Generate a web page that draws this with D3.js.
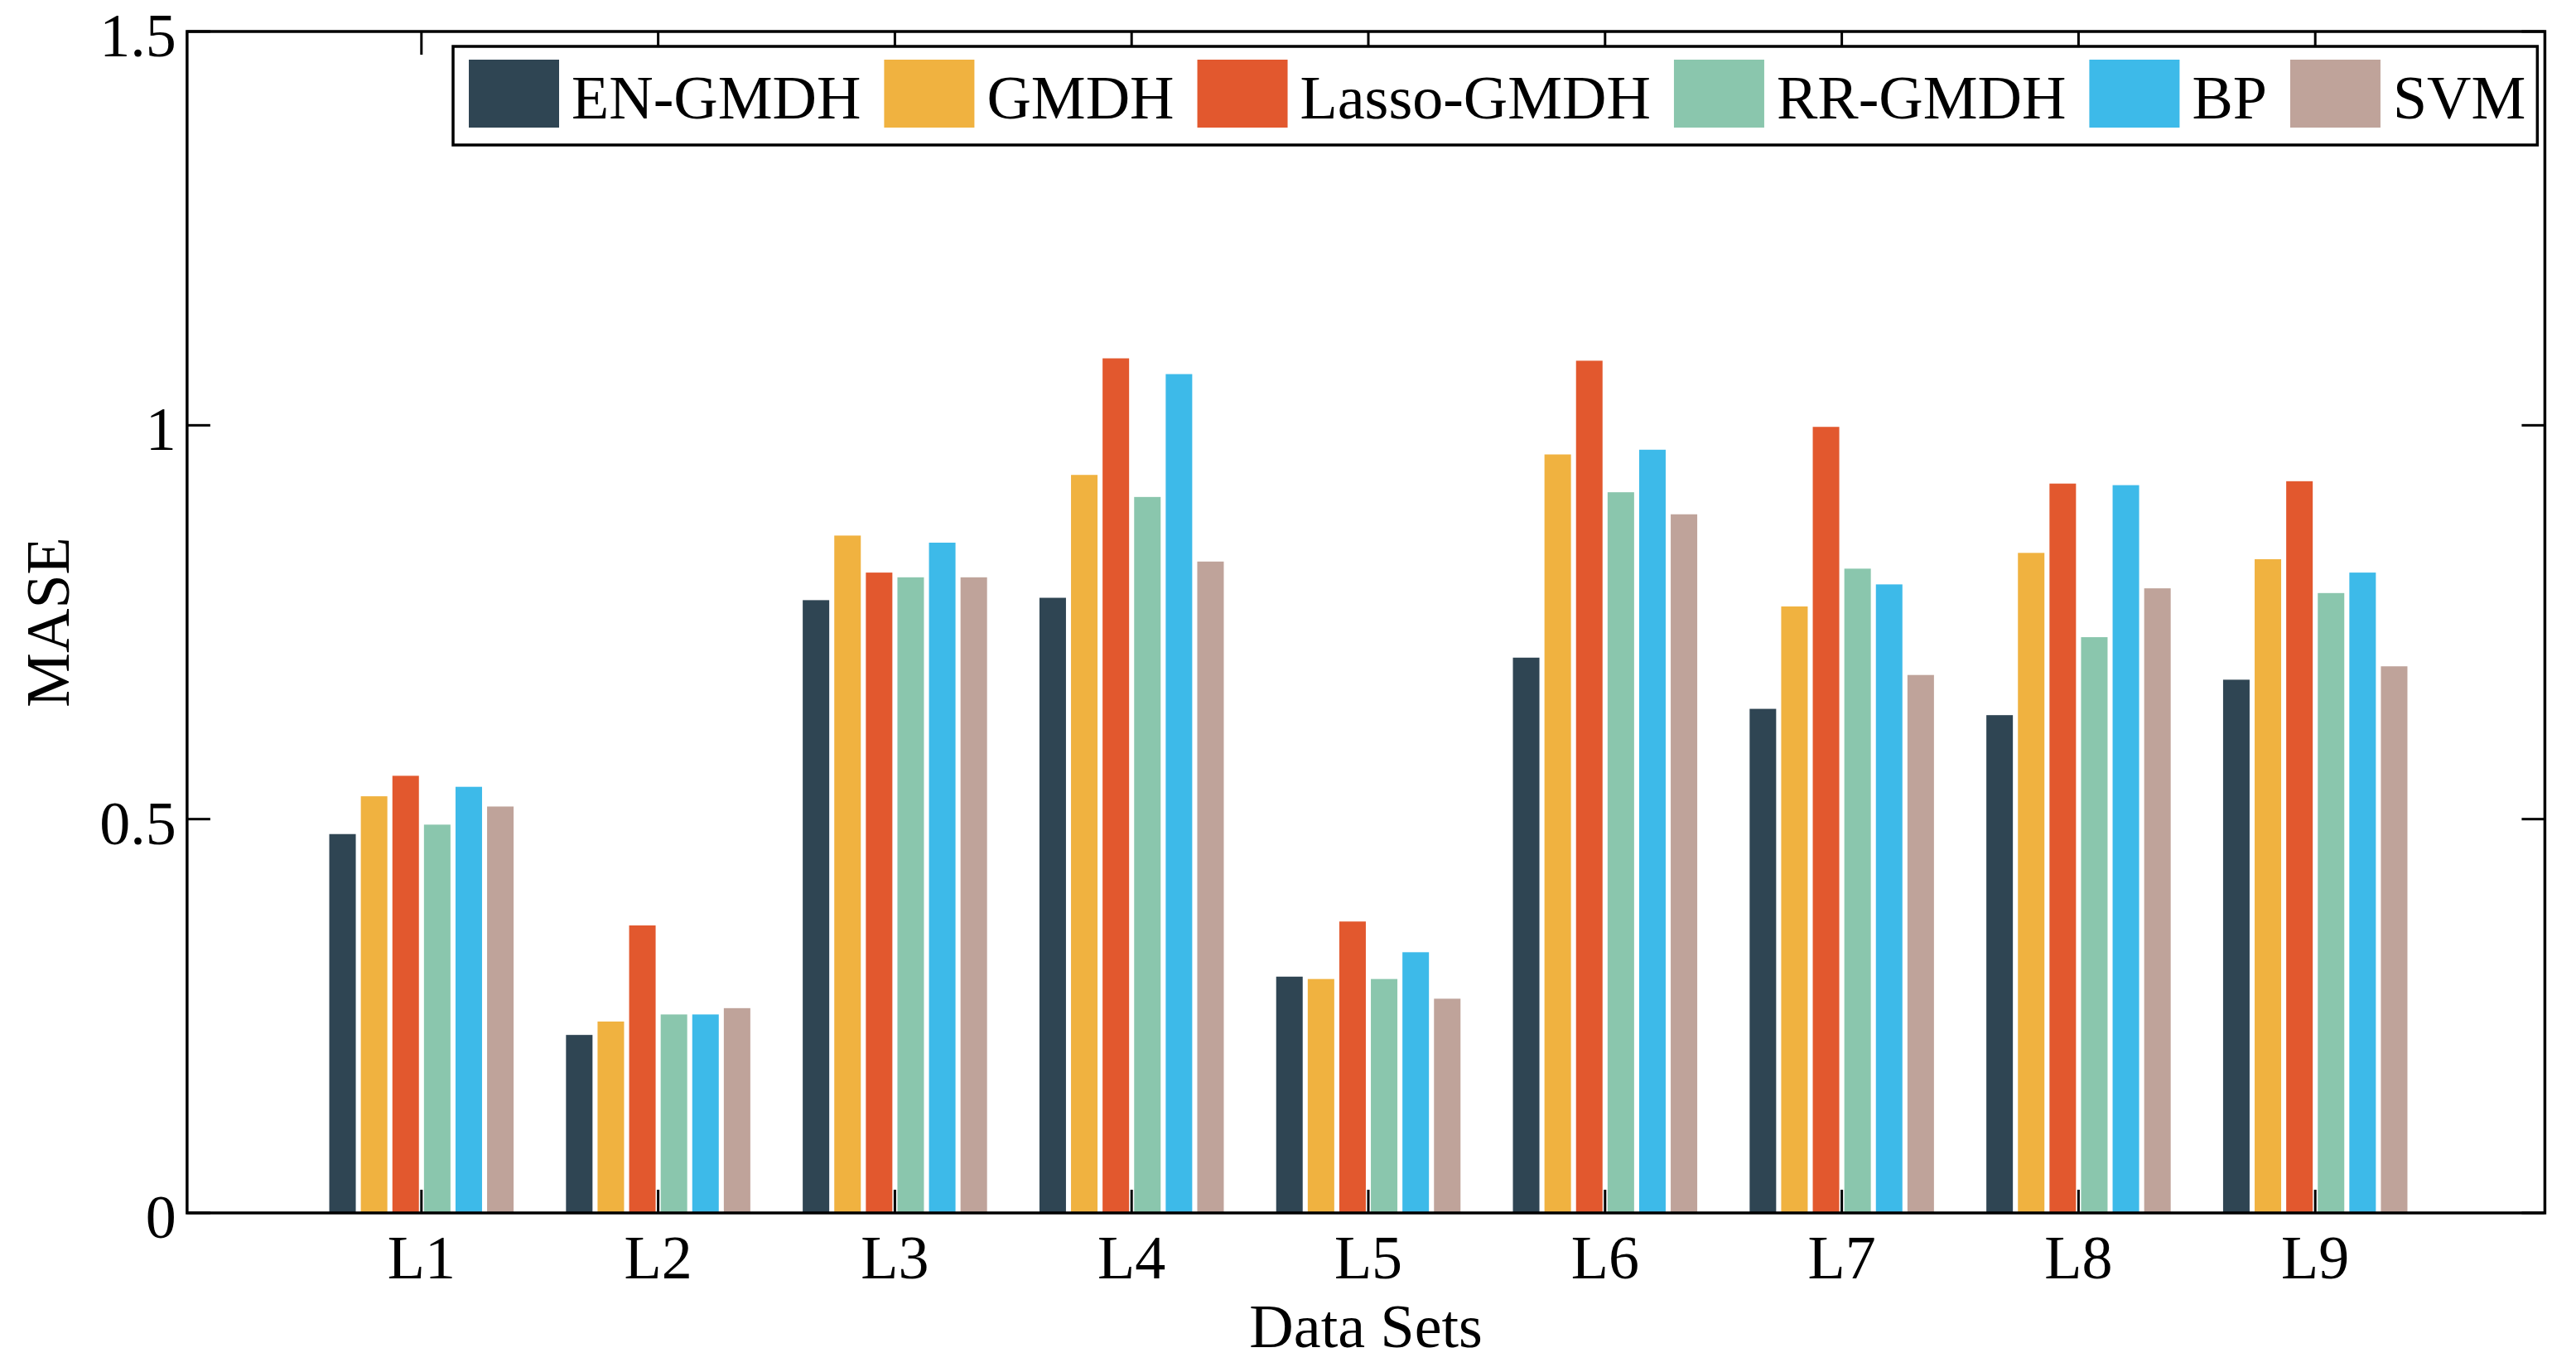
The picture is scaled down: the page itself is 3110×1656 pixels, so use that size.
<!DOCTYPE html>
<html><head><meta charset="utf-8">
<script src="https://cdn.jsdelivr.net/npm/d3@7"></script>
<style>html,body{margin:0;padding:0;background:#fff;} svg{display:block}</style>
</head><body>
<svg id="chart" width="3110" height="1656"></svg>
<script>
const categories = ["L1","L2","L3","L4","L5","L6","L7","L8","L9"];
const seriesNames = ["EN-GMDH","GMDH","Lasso-GMDH","RR-GMDH","BP","SVM"];
const seriesColors = ["#2f4553","#f0b240","#e2582e","#8ac6ad","#3dbae9","#bfa39a"];
const enGmdh    = [0.481,0.226,0.778,0.781,0.300,0.705,0.640,0.632,0.677];
const gmdh      = [0.529,0.243,0.860,0.937,0.297,0.963,0.770,0.838,0.830];
const lassoGmdh = [0.555,0.365,0.813,1.085,0.370,1.082,0.998,0.926,0.929];
const rrGmdh    = [0.493,0.252,0.807,0.909,0.297,0.915,0.818,0.731,0.787];
const bp        = [0.541,0.252,0.851,1.065,0.331,0.969,0.798,0.924,0.813];
const svm       = [0.516,0.260,0.807,0.827,0.272,0.887,0.683,0.793,0.694];
const yTicks = [0,0.5,1,1.5];
const yTickLabels = ["0","0.5","1","1.5"];
const xLabel = "Data Sets";
const yLabel = "MASE";

(function(){
const seriesValues = [enGmdh,gmdh,lassoGmdh,rrGmdh,bp,svm];
const FONT = "'Liberation Serif','Times New Roman',serif";
const FS = 74;

const svg = d3.select("#chart");
const x = d3.scaleLinear().domain([0,10]).range([223,3081]);
const xlim = [0.01, 9.97];
const y = d3.scaleLinear().domain([0,1.5]).range([1464,38]);
const pL = x(xlim[0]), pR = x(xlim[1]), pT = y(1.5), pB = y(0);

const nS = seriesNames.length;
const slot = 0.8 / nS;
const barW = slot * 0.84;

seriesValues.forEach((vals, si) => {
  svg.append("g").selectAll("rect").data(vals).join("rect")
    .attr("x", (d,i) => x(i + 1 + (si - (nS-1)/2) * slot - barW/2))
    .attr("width", x(barW) - x(0))
    .attr("y", d => y(d))
    .attr("height", d => y(0) - y(d))
    .attr("fill", seriesColors[si]);
});

const TL = 28;
const axG = svg.append("g").attr("stroke","#000").attr("stroke-width",3);
categories.forEach((c,i) => {
  const xx = x(i+1);
  axG.append("line").attr("x1",xx).attr("x2",xx).attr("y1",pB).attr("y2",pB-TL);
  axG.append("line").attr("x1",xx).attr("x2",xx).attr("y1",pT).attr("y2",pT+TL);
});
yTicks.forEach(t => {
  const yy = y(t);
  axG.append("line").attr("x1",pL).attr("x2",pL+TL).attr("y1",yy).attr("y2",yy);
  axG.append("line").attr("x1",pR).attr("x2",pR-TL).attr("y1",yy).attr("y2",yy);
});
svg.append("rect").attr("x",pL).attr("y",pT).attr("width",pR-pL).attr("height",pB-pT)
  .attr("fill","none").attr("stroke","#000").attr("stroke-width",3.5);

const txt = svg.append("g").attr("font-family",FONT).attr("font-size",FS).attr("fill","#000");
categories.forEach((c,i) => {
  txt.append("text").attr("x",x(i+1)).attr("y",pB+79).attr("text-anchor","middle").text(c);
});
yTicks.forEach((t,i) => {
  txt.append("text").attr("x",pL-13).attr("y",y(t)+30).attr("text-anchor","end").text(yTickLabels[i]);
});
txt.append("text").attr("x",(pL+pR)/2).attr("y",1626).attr("text-anchor","middle").text(xLabel);
txt.append("text").attr("transform",`translate(83,${(pT+pB)/2}) rotate(-90)`)
  .attr("text-anchor","middle").text(yLabel);

const lg = svg.append("g").attr("font-family",FONT).attr("font-size",FS);
const swW = 109, swH = 82, swY = 72, gap1 = 15, gap2 = 28;
let cx = 566;
seriesNames.forEach((n,i) => {
  lg.append("rect").attr("x",cx).attr("y",swY).attr("width",swW).attr("height",swH).attr("fill",seriesColors[i]);
  cx += swW + gap1;
  const t = lg.append("text").attr("x",cx).attr("y",143).text(n);
  cx += t.node().getComputedTextLength();
  if (i < nS-1) cx += gap2;
});
const boxL = 547, boxR = cx + 14;
lg.insert("rect",":first-child").attr("x",boxL).attr("y",56).attr("width",boxR-boxL).attr("height",119)
  .attr("fill","#fff").attr("stroke","#000").attr("stroke-width",3.5);
})();
</script>
</body></html>
